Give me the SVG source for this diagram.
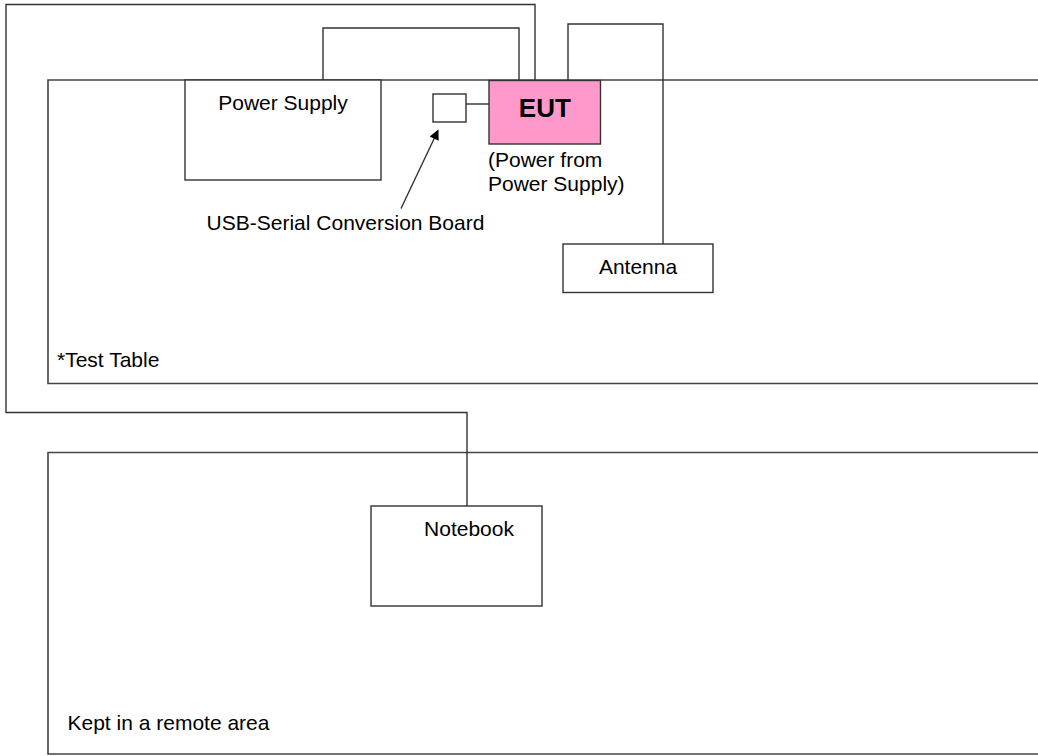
<svg xmlns="http://www.w3.org/2000/svg" width="1038" height="756" viewBox="0 0 1038 756">
<style>
.box{fill:#ffffff;stroke:#333333;stroke-width:1.4}
.area{fill:none;stroke:#444444;stroke-width:1.6}
.wire{fill:none;stroke:#333333;stroke-width:1.4}
.t{font-family:"Liberation Sans",Arial,sans-serif;font-size:21px;fill:#000000}
.b{font-family:"Liberation Sans",Arial,sans-serif;font-size:26px;font-weight:bold;fill:#000000}
</style>
<defs>
<marker id="ah" viewBox="0 0 10 10" refX="9" refY="5" markerWidth="13" markerHeight="10" markerUnits="userSpaceOnUse" orient="auto">
<path d="M0,0 L10,5 L0,10 z" fill="#000000"/>
</marker>
</defs>
<rect width="1038" height="756" fill="#ffffff"/>
<g id="test-table">
<path class="area" d="M1040,80 H48 V383.5 H1040"/>
<text class="t" x="57" y="367">*Test Table</text>
</g>
<g id="remote-area">
<path class="area" d="M1040,452.5 H48 V754 H1040"/>
<text class="t" x="67.5" y="730">Kept in a remote area</text>
</g>
<g id="connectors">
<path class="wire" d="M323,80 V28 H519 V80"/>
<path class="wire" d="M535,80 V4.5 H6 V412.5 H467 V506"/>
<path class="wire" d="M568,80 V24 H663 V244"/>
<path class="wire" d="M466,104 H489"/>
<line class="wire" x1="401" y1="208.5" x2="438" y2="130.5" stroke="#000000" stroke-width="1.3" marker-end="url(#ah)"/>
</g>
<g id="power-supply">
<rect class="box" x="185" y="80" width="196" height="100"/>
<text class="t" x="283" y="110" text-anchor="middle">Power Supply</text>
</g>
<g id="usb-serial-board">
<rect class="box" x="433" y="94" width="33" height="28"/>
<text class="t" x="345.5" y="230" text-anchor="middle">USB-Serial Conversion Board</text>
</g>
<g id="eut">
<rect class="box" x="489" y="80.5" width="111.5" height="63.5" style="fill:#ff99cc"/>
<text class="b" x="544.8" y="117" text-anchor="middle">EUT</text>
<text class="t" x="488" y="167">(Power from</text>
<text class="t" x="488" y="191">Power Supply)</text>
</g>
<g id="antenna">
<rect class="box" x="563" y="244" width="150" height="48.5"/>
<text class="t" x="638" y="273.5" text-anchor="middle">Antenna</text>
</g>
<g id="notebook">
<rect class="box" x="371" y="506" width="171" height="100"/>
<text class="t" x="469" y="536" text-anchor="middle">Notebook</text>
</g>
</svg>
